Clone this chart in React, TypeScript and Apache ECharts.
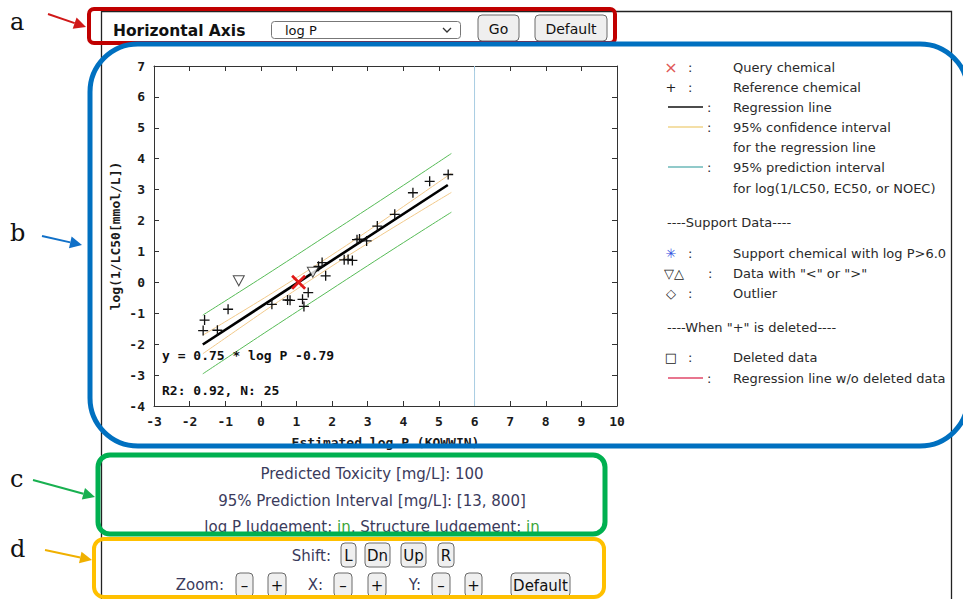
import React, { useEffect, useRef } from "react";
import * as echarts from "echarts";

// ---- data ----
const refX = [-1.62, -1.58, -1.22, -0.92, 0.31, 0.75, 0.82, 1.17, 1.21, 1.33, 1.62, 1.72, 1.82, 2.34, 2.45, 2.57, 2.7, 2.77, 2.97, 3.27, 3.76, 4.27, 4.74, 5.26];
const refY = [-1.56, -1.22, -1.55, -0.87, -0.71, -0.57, -0.58, -0.55, -0.78, -0.33, 0.52, 0.64, 0.21, 0.73, 0.74, 0.71, 1.38, 1.4, 1.34, 1.82, 2.2, 2.9, 3.27, 3.49];
const limitedX = [-0.62, 1.46];
const limitedY = [0.05, 0.33];
const queryX = [1.06];
const queryY = [0.0];
const regX = [-1.63, 5.25];
const regY = [-2.01, 3.15];
const bandX = [-1.63, -0.5, 0.5, 1.8, 3.0, 4.2, 5.35];
const ciUpper = [-1.71, -0.925, -0.215, 0.74, 1.66, 2.61, 3.53];
const ciLower = [-2.31, -1.405, -0.615, 0.38, 1.26, 2.11, 2.91];
const piUpper = [-1.06, -0.235, 0.505, 1.48, 2.38, 3.29, 4.17];
const piLower = [-2.96, -2.095, -1.335, -0.36, 0.54, 1.43, 2.27];
const applicabilityLimit = [6];
const xRange = [-3, 10];
const yRange = [-4, 7];
const equationText = "y = 0.75 * log P -0.79";
const statsText = "R2: 0.92, N: 25";
const xTitle = "Estimated log P (KOWWIN)";
const yTitle = "log(1/LC50[mmol/L])";

const legendSymbols = ["×", "+", "line:#111", "line:#f0d48a", "", "line:#6cb8b8", "", "", "✳", "▽△", "◇", "", "□", "line:#e0486a"];
const legendLabels = [
  "Query chemical",
  "Reference chemical",
  "Regression line",
  "95% confidence interval",
  "for the regression line",
  "95% prediction interval",
  "for log(1/LC50, EC50, or NOEC)",
  "----Support Data----",
  "Support chemical with log P>6.0",
  'Data with "<" or ">"',
  "Outlier",
  '----When "+" is deleted----',
  "Deleted data",
  "Regression line w/o deleted data",
];
const legendRowY = [67, 87, 107, 127, 147, 167, 188, 222, 253, 273, 293, 327, 357, 378];

const resultLine1 = "Predicted Toxicity [mg/L]: 100";
const resultLine2 = "95% Prediction Interval [mg/L]: [13, 800]";
const judgeLabels = ["log P Judgement: ", "in", ", Structure Judgement: ", "in"];

const shiftButtons = ["L", "Dn", "Up", "R"];
const zoomButtons = ["–", "+", "–", "+", "–", "+", "Default"];

const MONO = '"DejaVu Sans Mono", monospace';
const SANS = '"DejaVu Sans", Verdana, sans-serif';
const SERIF = '"DejaVu Serif", "Liberation Serif", serif';

function pairs(xs: number[], ys: number[]) {
  return xs.map((x, i) => [x, ys[i]]);
}

function button(label: string, x1: number, x2: number, y1: number, y2: number, fs = 15) {
  return {
    type: "group",
    z: 100,
    children: [
      { type: "rect", z: 100, shape: { x: x1, y: y1, width: x2 - x1, height: y2 - y1, r: 4 }, style: { fill: "#efefef", stroke: "#6a6a6a", lineWidth: 1 } },
      { type: "text", z: 101, style: { x: (x1 + x2) / 2, y: (y1 + y2) / 2 + 1, text: label, font: `${fs}px ${SANS}`, fill: "#111", textAlign: "center", textVerticalAlign: "middle" } },
    ],
  };
}

function arrow(x1: number, y1: number, x2: number, y2: number, color: string) {
  const ang = Math.atan2(y2 - y1, x2 - x1);
  const L = 12, W = 6;
  const bx = x2 - L * Math.cos(ang), by = y2 - L * Math.sin(ang);
  const px = -Math.sin(ang) * W, py = Math.cos(ang) * W;
  return {
    type: "group",
    z: 110,
    children: [
      { type: "line", z: 110, shape: { x1, y1, x2: bx, y2: by }, style: { stroke: color, lineWidth: 2 } },
      { type: "polygon", z: 110, shape: { points: [[x2, y2], [bx + px, by + py], [bx - px, by - py]] }, style: { fill: color } },
    ],
  };
}

function legendGraphics() {
  const els: any[] = [];
  legendLabels.forEach((lab, i) => {
    const y = legendRowY[i];
    const sym = legendSymbols[i];
    const isHeader = lab.startsWith("----");
    els.push({ type: "text", z: 100, style: { x: isHeader ? 667 : 733, y, text: lab, font: `13px ${SANS}`, fill: "#2a2a2a", textVerticalAlign: "middle" } });
    if (!sym) return;
    if (sym.startsWith("line:")) {
      els.push({ type: "line", z: 100, shape: { x1: 668, y1: y, x2: 703, y2: y }, style: { stroke: sym.slice(5), lineWidth: 1.3 } });
      els.push({ type: "text", z: 100, style: { x: 707, y, text: ":", font: `13px ${SANS}`, fill: "#2a2a2a", textVerticalAlign: "middle" } });
    } else {
      const color = sym === "×" ? "#e05858" : sym === "✳" ? "#3050e0" : "#222";
      els.push({ type: "text", z: 100, style: { x: 671, y, text: sym, font: `${sym === "×" ? 16 : 13}px ${SANS}`, fill: color, textAlign: sym === "▽△" ? "left" : "center", textVerticalAlign: "middle" } });
      els.push({ type: "text", z: 100, style: { x: sym === "▽△" ? 708 : 688, y, text: ":", font: `13px ${SANS}`, fill: "#2a2a2a", textVerticalAlign: "middle" } });
    }
  });
  // shift the ▽△ symbol to start at left
  return els.map((e) => (e.style && e.style.text === "▽△" ? { ...e, style: { ...e.style, x: 664 } } : e));
}

function buildGraphics() {
  const g: any[] = [];
  // page frame
  g.push({ type: "polyline", z: 50, shape: { points: [[101.5, 599], [101.5, 11.5], [951.5, 11.5], [951.5, 599]] }, style: { stroke: "#222", lineWidth: 1.3, fill: "none" } });

  // header controls
  g.push({ type: "text", z: 100, style: { x: 113, y: 31, text: "Horizontal Axis", font: `bold 15.5px ${SANS}`, fill: "#111", textVerticalAlign: "middle" } });
  g.push({ type: "rect", z: 100, shape: { x: 271.5, y: 21.5, width: 189, height: 17, r: 3 }, style: { fill: "#fff", stroke: "#777", lineWidth: 1 } });
  g.push({ type: "text", z: 101, style: { x: 285, y: 30.5, text: "log P", font: `13px ${SANS}`, fill: "#111", textVerticalAlign: "middle" } });
  g.push({ type: "polyline", z: 101, shape: { points: [[443, 28], [447, 32], [451, 28]] }, style: { stroke: "#333", lineWidth: 1.3, fill: "none" } });
  g.push(button("Go", 478, 519, 15, 41, 14));
  g.push(button("Default", 535, 607, 15, 41, 14));

  // legend
  g.push(...legendGraphics());

  // results
  g.push({ type: "text", z: 90, style: { x: 372, y: 474, text: resultLine1, font: `15px ${SANS}`, fill: "#3b3b5c", textAlign: "center", textVerticalAlign: "middle" } });
  g.push({ type: "text", z: 90, style: { x: 372, y: 501, text: resultLine2, font: `15px ${SANS}`, fill: "#3b3b5c", textAlign: "center", textVerticalAlign: "middle" } });
  g.push({
    type: "text",
    z: 90,
    style: {
      x: 372,
      y: 527,
      text: `{a|${judgeLabels[0]}}{g|${judgeLabels[1]}}{a|${judgeLabels[2]}}{g|${judgeLabels[3]}}`,
      rich: {
        a: { font: `15px ${SANS}`, fill: "#3b3b5c", color: "#3b3b5c" },
        g: { font: `15px ${SANS}`, fill: "#3aa63a", color: "#3aa63a" },
      },
      textAlign: "center",
      textVerticalAlign: "middle",
    },
  });

  // shift / zoom controls
  g.push({ type: "text", z: 100, style: { x: 331, y: 556, text: "Shift:", font: `15px ${SANS}`, fill: "#3b3b5c", textAlign: "right", textVerticalAlign: "middle" } });
  const shiftPos = [[341, 356], [365, 390], [401, 426], [438, 454]];
  shiftButtons.forEach((b, i) => g.push(button(b, shiftPos[i][0], shiftPos[i][1], 543, 567)));
  g.push({ type: "text", z: 100, style: { x: 224, y: 585, text: "Zoom:", font: `15px ${SANS}`, fill: "#3b3b5c", textAlign: "right", textVerticalAlign: "middle" } });
  g.push({ type: "text", z: 100, style: { x: 323, y: 585, text: "X:", font: `15px ${SANS}`, fill: "#3b3b5c", textAlign: "right", textVerticalAlign: "middle" } });
  g.push({ type: "text", z: 100, style: { x: 421, y: 585, text: "Y:", font: `15px ${SANS}`, fill: "#3b3b5c", textAlign: "right", textVerticalAlign: "middle" } });
  const zoomPos = [[236, 253], [268, 286], [334, 352], [368, 386], [432, 450], [465, 482], [511, 570]];
  zoomButtons.forEach((b, i) => g.push(button(b, zoomPos[i][0], zoomPos[i][1], 573, 597)));

  // annotation boxes
  g.push({ type: "rect", z: 120, shape: { x: 89, y: 9, width: 526, height: 34, r: 5 }, style: { fill: "none", stroke: "#c00000", lineWidth: 4 } });
  g.push({ type: "rect", z: 120, shape: { x: 90, y: 44, width: 878, height: 402, r: 48 }, style: { fill: "none", stroke: "#0070c0", lineWidth: 5 } });
  g.push({ type: "rect", z: 120, shape: { x: 98, y: 455, width: 507, height: 79, r: 12 }, style: { fill: "none", stroke: "#00b050", lineWidth: 5 } });
  g.push({ type: "rect", z: 120, shape: { x: 94, y: 539, width: 510, height: 58, r: 10 }, style: { fill: "none", stroke: "#ffc000", lineWidth: 4 } });

  // side letters and arrows
  const letters = [["a", 22], ["b", 233], ["c", 479], ["d", 549]];
  letters.forEach(([t, y]) => g.push({ type: "text", z: 110, style: { x: 10, y: y as number, text: t as string, font: `24px ${SERIF}`, fill: "#111", textVerticalAlign: "middle" } }));
  g.push(arrow(48, 14, 86, 27, "#d01818"));
  g.push(arrow(42, 236, 82, 245, "#1070c8"));
  g.push(arrow(33, 480, 95, 497, "#18b050"));
  g.push(arrow(45, 550, 92, 560, "#f0b000"));

  // in-plot annotations
  g.push({ type: "text", z: 60, style: { x: 162, y: 355, text: equationText, font: `bold 13px ${MONO}`, fill: "#111", textVerticalAlign: "middle" } });
  g.push({ type: "text", z: 60, style: { x: 162, y: 390, text: statsText, font: `bold 13px ${MONO}`, fill: "#111", textVerticalAlign: "middle" } });
  return g;
}

export default function App() {
  const ref = useRef<HTMLDivElement>(null);
  useEffect(() => {
    if (!ref.current) return;
    const chart = echarts.init(ref.current, null, { renderer: "svg" });
    const axisCommon = {
      type: "value",
      interval: 1,
      axisLine: { show: true, onZero: false, lineStyle: { color: "#333", width: 1 } },
      axisTick: { show: true, inside: true, length: 5, lineStyle: { color: "#333" } },
      splitLine: { show: false },
    };
    const labelStyle = { color: "#1a1a1a", fontFamily: MONO, fontWeight: "bold", fontSize: 13 };
    chart.setOption({
      animation: false,
      backgroundColor: "#fff",
      grid: { left: 154, top: 66, width: 463, height: 340, containLabel: false },
      xAxis: [
        { ...axisCommon, position: "bottom", min: xRange[0], max: xRange[1], axisLabel: { ...labelStyle, margin: 9 }, name: xTitle, nameLocation: "middle", nameGap: 30, nameTextStyle: { ...labelStyle } },
        { ...axisCommon, position: "top", min: xRange[0], max: xRange[1], axisLabel: { show: false } },
      ],
      yAxis: [
        { ...axisCommon, position: "left", min: yRange[0], max: yRange[1], axisLabel: { ...labelStyle, margin: 9 }, name: yTitle, nameLocation: "middle", nameGap: 32, nameRotate: 90, nameTextStyle: { ...labelStyle } },
        { ...axisCommon, position: "right", min: yRange[0], max: yRange[1], axisLabel: { show: false } },
      ],
      series: [
        {
          type: "line",
          name: "limit",
          data: [[applicabilityLimit[0], yRange[0]], [applicabilityLimit[0], yRange[1]]],
          showSymbol: false,
          lineStyle: { color: "#a9cde3", width: 1 },
          z: 1,
        },
        { type: "line", data: pairs(bandX, piUpper), smooth: true, showSymbol: false, lineStyle: { color: "#56bb56", width: 1 }, z: 2 },
        { type: "line", data: pairs(bandX, piLower), smooth: true, showSymbol: false, lineStyle: { color: "#56bb56", width: 1 }, z: 2 },
        { type: "line", data: pairs(bandX, ciUpper), smooth: true, showSymbol: false, lineStyle: { color: "#f2c98a", width: 1 }, z: 2 },
        { type: "line", data: pairs(bandX, ciLower), smooth: true, showSymbol: false, lineStyle: { color: "#f2c98a", width: 1 }, z: 2 },
        { type: "line", data: pairs(regX, regY), showSymbol: false, lineStyle: { color: "#000", width: 2.6 }, z: 3 },
        {
          type: "scatter",
          data: pairs(refX, refY),
          symbol: "path://M5,0L5,10M0,5L10,5",
          symbolSize: 10,
          itemStyle: { color: "rgba(0,0,0,0)", borderColor: "#111", borderWidth: 1.3, opacity: 1 },
          z: 4,
        },
        {
          type: "scatter",
          data: pairs(limitedX, limitedY),
          symbol: "triangle",
          symbolRotate: 180,
          symbolSize: [11, 10],
          itemStyle: { color: "#fff", borderColor: "#222", borderWidth: 1 },
          z: 4,
        },
        {
          type: "scatter",
          data: pairs(queryX, queryY),
          symbol: "path://M0,0L10,10M10,0L0,10",
          symbolSize: 13,
          itemStyle: { color: "rgba(0,0,0,0)", borderColor: "#e01818", borderWidth: 2.8, opacity: 1 },
          z: 5,
        },
      ],
      graphic: { elements: buildGraphics() },
    });
    return () => chart.dispose();
  }, []);
  return <div ref={ref} style={{ position: "absolute", left: 0, top: 0, width: 963, height: 599, background: "#fff" }} />;
}
